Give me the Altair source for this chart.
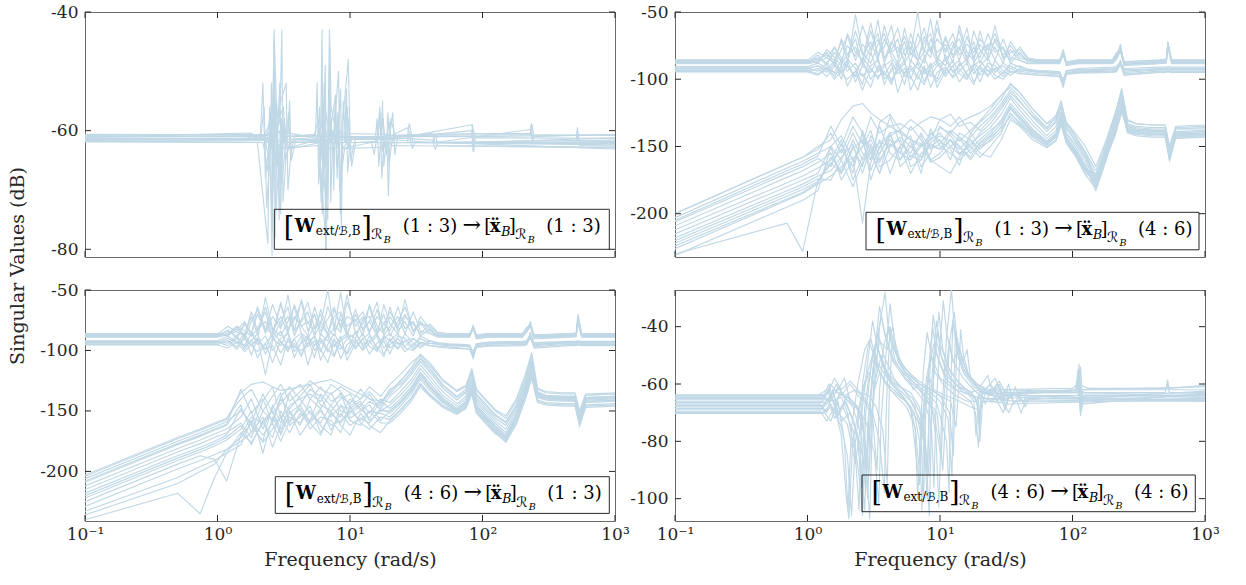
import altair as alt
import pandas as pd

# ---------------- data ----------------
X_TICKS = [0.1, 1, 10, 100, 1000]
TL_YTICKS = [-80, -60, -40]
TR_YTICKS = [-200, -150, -100, -50]
BL_YTICKS = [-200, -150, -100, -50]
BR_YTICKS = [-100, -80, -60, -40]

TL_DOMAIN = [-81.3, -40]
TR_DOMAIN = [-232.2, -50]
BL_DOMAIN = [-241, -50]
BR_DOMAIN = [-107.8, -27.2]

# frequency grid of the upper (sigma1 / sigma2) bundles, rad/s
FREQ_UP = [0.1, 1.0, 1.2, 1.4, 1.6, 1.8, 2.0, 2.3, 2.6, 3.0,
           3.4, 3.8, 4.3, 4.8, 5.4, 6.0, 6.8, 7.6, 8.5, 9.5,
           11, 12.5, 14, 16, 18, 20, 23, 26, 30, 34,
           40, 46, 55, 70, 80, 85, 90, 110, 200, 215,
           230, 245, 450, 510, 525, 560, 1000]
# frequency grid of the lower bundle, top-right panel
FREQ_LO_TR = [0.1, 0.7, 0.92, 1.2, 1.5, 1.8, 2.2, 2.6, 3.0, 3.5,
              4.2, 5.0, 6.0, 7.2, 8.5, 10, 12, 14, 17, 20,
              24, 29, 34, 40, 50, 64, 75, 82, 90, 105,
              125, 150, 180, 210, 235, 260, 300, 400, 500, 540,
              600, 1000]
# frequency grid of the lower bundle, bottom-left panel
FREQ_LO_BL = [0.1, 0.5, 0.74, 0.95, 1.17, 1.5, 1.8, 2.2, 2.6, 3.0,
              3.5, 4.2, 5.0, 6.0, 7.2, 8.5, 10, 12, 14, 17,
              20, 24, 29, 34, 40, 50, 64, 75, 83, 90,
              105, 125, 150, 180, 210, 235, 260, 300, 400, 500,
              540, 600, 1000]

# top-left: [frequency, dB] points of each curve
TL_LINES = [
    [[0.1,-61.0],[1.8,-61.0],[2.3,-61.8],[2.5,-66],[2.58,-81],[2.67,-43],[2.8,-57],[3.1,-60.2],[5.6,-61.3],[6.4,-63],[6.6,-57],[6.9,-60],[8,-61],[17,-61.5],[17.8,-58],[18.6,-63],[20,-61],[27,-59.5],[29,-61],[83,-60],[86,-62],[1000,-61.2]],
    [[0.1,-61.4],[2.0,-61.4],[2.4,-60.5],[2.9,-59],[3.0,-52],[3.06,-43],[3.12,-72],[3.3,-64],[3.6,-62],[5.8,-61.8],[6.62,-80],[7.0,-43],[7.2,-56],[7.8,-60],[9,-61],[19,-61.5],[19.5,-71],[20.3,-58],[22,-61],[42,-60.5],[44,-62],[230,-59.8],[240,-62],[1000,-61.8]],
    [[0.1,-60.8],[1.85,-60.6],[2.1,-61.5],[2.2,-52],[2.3,-68],[2.45,-62],[2.75,-57],[2.85,-66],[3.2,-61],[5.5,-60.6],[5.65,-52],[5.8,-69],[6.2,-61],[8.6,-61],[9.7,-48],[10.1,-65],[11,-61.2],[27,-61],[83,-59],[88,-61],[1000,-60.7]],
    [[0.1,-61.7],[2.0,-62],[2.4,-79],[2.47,-56],[2.6,-60],[3.3,-52],[3.4,-70],[3.6,-63],[6,-62],[6.8,-75],[7.0,-53],[7.3,-62],[8.3,-62.5],[8.6,-76],[8.9,-55],[9.3,-62],[16,-62],[16.8,-56],[17.4,-68],[18,-62],[510,-62],[520,-59.5],[540,-62.5],[1000,-62.6]],
    [[0.1,-61.2],[2.2,-61.5],[2.55,-58],[2.62,-70],[2.7,-50],[2.78,-66],[3.0,-62],[6.0,-61.5],[6.15,-43],[6.25,-70],[6.5,-62],[7.4,-60],[7.55,-70],[7.7,-58],[8.2,-61.5],[18,-61.5],[18.8,-64],[19.3,-57],[20,-61.5],[42,-62],[44,-60.5],[46,-62.5],[1000,-62.8]],
    [[0.1,-60.6],[2.5,-60.7],[2.8,-55],[2.92,-75],[3.05,-58],[3.2,-61],[7,-60.8],[7.8,-54],[8.0,-68],[8.3,-60],[9,-60.5],[20,-60.6],[21,-57],[21.8,-64],[23,-60.8],[83,-60.5],[85,-63.5],[87,-60.5],[230,-60.5],[235,-58.8],[245,-61],[1000,-60.6]],
    [[0.1,-61.5],[1.6,-61.4],[2.05,-60.6],[2.35,-62],[2.5,-57],[2.58,-77],[2.68,-60],[3.15,-56],[3.25,-65],[3.5,-62],[6.3,-62],[6.5,-49],[6.65,-73],[6.9,-62],[9.4,-62],[9.8,-58],[10.3,-66],[11,-62],[15.5,-61.8],[16,-58],[16.5,-66],[17,-62],[1000,-62.2]],
    [[0.1,-60.9],[2.3,-61],[2.52,-63],[2.55,-52],[2.62,-66],[2.9,-62],[3.4,-61],[3.5,-55],[3.6,-65],[3.9,-61.5],[5.7,-61.5],[5.9,-56],[6.05,-72],[6.3,-62],[7.5,-61],[8.2,-50],[8.45,-74],[8.8,-63],[10,-61.4],[27,-61.3],[28,-58.8],[30,-62],[1000,-61.6]],
    [[0.1,-61.3],[2.5,-61.3],[2.63,-61.8],[2.67,-45],[2.72,-78],[2.8,-63],[3.2,-61.5],[6.9,-61.6],[7.05,-46],[7.15,-72],[7.4,-62],[9.1,-62],[9.4,-53],[9.6,-67],[10,-62],[17.2,-62],[17.6,-55],[18,-66],[18.7,-62],[510,-62],[520,-60],[535,-62],[1000,-62.0]],
    [[0.1,-61.8],[2.1,-61.7],[2.25,-56],[2.35,-73],[2.5,-63],[2.9,-62.5],[3.0,-74],[3.08,-58],[3.3,-62],[5.5,-62],[6.45,-58],[6.55,-80],[6.7,-62],[7.9,-62],[8.1,-57],[8.35,-70],[8.7,-63],[14.5,-62],[15.2,-64],[16,-61],[42,-61.6],[44,-63.2],[46,-62],[1000,-63.1]],
    [[0.1,-61.1],[1.8,-60.4],[2.0,-61.6],[2.45,-61.2],[2.8,-65],[2.95,-52],[3.05,-69],[3.3,-61.5],[5.3,-61.2],[5.8,-58],[6.0,-64],[6.35,-55],[6.5,-66],[6.9,-61.3],[9.2,-61.1],[9.55,-56],[9.75,-63],[10.5,-61],[19,-61],[19.8,-58.5],[20.5,-62.5],[21.5,-61],[83,-61],[84,-59],[86,-63.5],[88,-61.2],[1000,-61.3]],
    [[0.1,-60.7],[2.4,-60.8],[2.6,-59],[2.72,-56],[2.78,-62],[3.3,-60.5],[3.45,-57],[3.55,-64],[3.8,-61],[6.6,-60.8],[7.2,-58],[7.35,-64],[7.9,-61],[16.3,-61],[17,-57],[17.5,-63.5],[18.3,-60.8],[230,-60.7],[232,-59],[240,-61.5],[250,-60.7],[1000,-60.8]],
    [[0.1,-61.9],[2.2,-62],[2.42,-67],[2.48,-60],[2.56,-62.5],[2.65,-49],[2.75,-74],[2.95,-63],[5.8,-62.5],[6.2,-74],[6.35,-60],[6.6,-63],[8,-63],[8.5,-53],[8.65,-67],[9.1,-63],[18,-62.8],[19.5,-62],[19.7,-66],[20.5,-62.5],[1000,-62.9]],
    [[0.1,-61.6],[2.6,-61.6],[2.95,-60],[3.05,-66],[3.2,-58],[3.35,-63],[5.5,-61.6],[6.1,-59],[6.25,-52],[6.32,-68],[6.45,-62],[7.6,-61.5],[7.75,-54],[7.9,-66],[8.4,-62],[27,-62],[28,-60.5],[29.5,-63],[31,-62],[1000,-62.4]],
]

# top-right, upper bundle (dB on FREQ_UP)
TR_UPPER = [
    [-86.5, -86.5, -84, -88, -80, -86, -75, -83, -60, -78,
     -70, -85, -72, -80, -68, -82, -75, -62, -80, -70,
     -78, -66, -82, -74, -80, -70, -78, -72, -82, -75,
     -84, -86, -86.5, -86.5, -86.5, -80, -88, -86.5, -86.5, -82,
     -76, -88, -86.5, -86, -74, -86.5, -86.5],
    [-92.5, -92.5, -90, -95, -88, -100, -85, -92, -104, -80,
     -95, -88, -102, -92, -86, -108, -96, -84, -94, -100,
     -82, -95, -90, -85, -96, -90, -84, -95, -88, -92,
     -90, -93, -95, -95.5, -96, -103, -95, -94, -93, -93,
     -88, -95, -93, -93, -93, -93, -93],
    [-87.5, -87.5, -82, -90, -76, -84, -90, -52, -80, -88,
     -74, -66, -84, -90, -78, -72, -86, -80, -55, -84,
     -90, -75, -70, -86, -76, -84, -66, -80, -76, -88,
     -80, -87, -87.5, -87.5, -87.5, -78, -89, -87.5, -87.5, -84,
     -74, -89, -87.5, -87, -72, -87.5, -87.5],
    [-93.5, -93.5, -96, -91, -98, -90, -105, -94, -86, -100,
     -92, -97, -88, -110, -95, -90, -98, -104, -92, -88,
     -98, -90, -102, -94, -89, -97, -93, -100, -95, -90,
     -94, -95, -96, -96.5, -97, -106, -95.5, -94.5, -94, -93.5,
     -86, -96, -94, -94, -93.5, -94, -94],
    [-86, -86, -80, -84, -88, -70, -82, -76, -88, -64,
     -82, -76, -60, -84, -72, -88, -66, -78, -84, -62,
     -80, -72, -86, -68, -84, -74, -82, -60, -85, -80,
     -78, -85, -86, -86, -86, -82, -87, -86, -86, -80,
     -78, -87, -86, -85.5, -76, -86, -86],
    [-92, -92, -94, -88, -96, -92, -86, -102, -90, -95,
     -84, -100, -94, -90, -104, -86, -92, -96, -88, -106,
     -94, -86, -96, -100, -88, -92, -98, -86, -94, -97,
     -92, -94, -94.5, -95, -95.5, -100, -94, -93, -92.5, -92,
     -90, -94, -92.5, -92.5, -92, -92.5, -92.5],
    [-88, -88, -86, -80, -90, -78, -68, -86, -74, -82,
     -56, -84, -78, -70, -88, -80, -50, -84, -76, -88,
     -68, -84, -78, -62, -88, -80, -74, -86, -70, -84,
     -86, -88, -88, -88, -88, -81, -89, -88, -88, -85,
     -79, -89, -88, -87.5, -75, -88, -88],
    [-94, -94, -92, -98, -90, -96, -100, -94, -108, -92,
     -98, -94, -104, -88, -96, -92, -100, -90, -106, -95,
     -91, -99, -94, -88, -102, -95, -90, -97, -100, -94,
     -96, -96, -97, -97.5, -98, -104, -96, -95, -94.5, -94,
     -87, -97, -94.5, -94.5, -94, -94.5, -94.5],
    [-87, -87, -85, -82, -86, -72, -86, -64, -82, -72,
     -86, -60, -80, -76, -86, -66, -82, -88, -70, -80,
     -74, -88, -60, -80, -86, -64, -84, -76, -88, -72,
     -82, -86, -87, -87, -87, -79, -88, -87, -87, -83,
     -77, -88, -87, -86.5, -73, -87, -87],
    [-91.5, -91.5, -90, -93, -86, -95, -90, -98, -84, -92,
     -100, -90, -86, -96, -92, -100, -86, -94, -98, -90,
     -86, -94, -92, -100, -90, -86, -94, -92, -90, -95,
     -93, -93.5, -94, -94.5, -95, -102, -94, -93, -92, -91.5,
     -88, -93, -92, -92, -91.5, -92, -92],
    [-85.5, -85.5, -88, -78, -84, -90, -66, -80, -86, -58,
     -84, -70, -80, -88, -62, -80, -86, -72, -66, -86,
     -70, -82, -76, -88, -64, -78, -86, -70, -78, -86,
     -76, -84, -85.5, -85.5, -85.5, -79, -87, -85.5, -85.5, -81,
     -77, -87, -85.5, -85, -73, -85.5, -85.5],
    [-94.5, -94.5, -97, -92, -100, -94, -90, -98, -96, -106,
     -90, -96, -100, -94, -88, -98, -108, -92, -96, -102,
     -92, -98, -88, -96, -104, -90, -97, -92, -98, -92,
     -95, -96.5, -97, -97.5, -98, -105, -96.5, -95.5, -95, -94.5,
     -88, -97, -95, -95, -94.5, -95, -95],
    [-88.5, -88.5, -87, -84, -76, -88, -82, -70, -90, -76,
     -66, -88, -74, -62, -82, -76, -86, -68, -80, -56,
     -86, -78, -64, -84, -72, -88, -76, -66, -84, -78,
     -86, -88.5, -88.5, -88.5, -88.5, -82, -90, -88.5, -88.5, -85,
     -79, -90, -88.5, -88, -76, -88.5, -88.5],
    [-90.5, -90.5, -88, -92, -95, -86, -94, -88, -98, -90,
     -86, -104, -92, -88, -98, -94, -88, -102, -90, -86,
     -96, -90, -86, -98, -92, -102, -88, -90, -96, -88,
     -91, -92.5, -93.5, -94, -94.5, -101, -93.5, -92, -91, -90.5,
     -87, -92, -91, -91, -90.5, -91, -91],
]

# top-right, lower bundle (dB on FREQ_LO_TR)
TR_LOWER = [
    [-200, -163, -158, -152, -140, -155, -135, -148, -128, -140,
     -135, -133, -138, -132, -128, -130, -135, -128, -140, -132,
     -125, -115, -103, -110, -122, -133, -130, -120, -132, -140,
     -150, -165, -145, -125, -108, -130, -133, -134, -134, -150,
     -136, -135],
    [-203, -166, -161, -155, -150, -142, -160, -150, -145, -156,
     -140, -138, -145, -150, -141, -136, -140, -146, -138, -131,
     -122, -112, -106, -113, -125, -136, -128, -117, -134, -143,
     -155, -172, -150, -128, -110, -134, -136, -137, -137, -155,
     -139, -138],
    [-206, -170, -165, -159, -165, -148, -170, -138, -155, -147,
     -150, -143, -150, -158, -147, -142, -146, -152, -143, -135,
     -128, -118, -108, -116, -128, -139, -132, -121, -137, -146,
     -158, -176, -153, -131, -112, -136, -138, -139, -139, -158,
     -141, -140],
    [-209, -173, -168, -162, -155, -170, -150, -165, -142, -152,
     -128, -148, -155, -140, -152, -148, -138, -143, -150, -140,
     -133, -122, -112, -120, -131, -142, -135, -124, -140, -148,
     -160, -178, -155, -133, -115, -137, -138, -138, -139, -157,
     -140, -139],
    [-212, -177, -172, -166, -160, -145, -175, -158, -148, -162,
     -145, -155, -160, -150, -145, -140, -150, -156, -148, -142,
     -136, -126, -114, -123, -134, -144, -138, -126, -141, -150,
     -163, -180, -158, -135, -117, -138, -140, -141, -141, -160,
     -142, -141],
    [-215, -180, -175, -170, -150, -160, -140, -155, -160, -135,
     -155, -160, -150, -142, -160, -155, -145, -150, -158, -147,
     -140, -130, -118, -126, -137, -146, -140, -128, -143, -152,
     -165, -183, -160, -137, -119, -135, -137, -138, -138, -154,
     -137, -136],
    [-218, -183, -178, -172, -168, -158, -148, -170, -150, -165,
     -160, -150, -170, -155, -150, -145, -160, -140, -145, -152,
     -145, -135, -122, -130, -140, -148, -142, -131, -145, -154,
     -168, -170, -155, -140, -122, -139, -140, -141, -141, -158,
     -142, -142],
    [-230, -207, -228, -175, -162, -170, -152, -145, -168, -150,
     -140, -165, -157, -160, -148, -152, -145, -155, -150, -158,
     -150, -140, -125, -133, -143, -150, -145, -133, -147, -156,
     -170, -175, -158, -142, -125, -137, -139, -140, -140, -156,
     -141, -140],
    [-222, -187, -182, -176, -163, -152, -165, -140, -175, -155,
     -142, -138, -165, -160, -137, -150, -155, -160, -152, -145,
     -138, -132, -120, -128, -138, -146, -141, -129, -144, -153,
     -166, -172, -149, -127, -109, -133, -135, -136, -136, -153,
     -137, -137],
    [-226, -190, -185, -178, -172, -165, -158, -207, -162, -145,
     -170, -150, -142, -165, -155, -135, -142, -150, -160, -150,
     -143, -136, -128, -134, -142, -149, -143, -130, -146, -155,
     -168, -177, -157, -138, -120, -140, -142, -143, -143, -161,
     -144, -143],
    [-200, -163, -158, -150, -145, -130, -120, -118, -125, -130,
     -135, -140, -145, -148, -150, -152, -140, -132, -128, -125,
     -120, -112, -104, -110, -122, -133, -127, -116, -133, -142,
     -154, -168, -147, -126, -107, -131, -133, -134, -134, -150,
     -135, -134],
    [-231, -195, -190, -183, -150, -175, -160, -150, -138, -160,
     -148, -155, -135, -145, -160, -165, -170, -158, -145, -155,
     -158, -145, -130, -135, -145, -151, -146, -134, -148, -157,
     -171, -181, -159, -140, -123, -138, -140, -141, -141, -159,
     -143, -142],
    [-205, -168, -163, -157, -135, -150, -128, -140, -160, -132,
     -126, -138, -130, -136, -145, -130, -126, -135, -132, -138,
     -130, -120, -110, -117, -127, -137, -131, -120, -136, -145,
     -156, -174, -152, -130, -111, -135, -137, -138, -138, -156,
     -140, -139],
    [-220, -185, -180, -174, -175, -160, -180, -162, -155, -170,
     -150, -145, -158, -148, -162, -158, -150, -144, -155, -148,
     -142, -133, -121, -129, -139, -147, -142, -130, -144, -153,
     -167, -180, -156, -136, -118, -139, -141, -142, -142, -159,
     -143, -143],
    [-224, -189, -184, -177, -158, -168, -145, -160, -152, -170,
     -140, -160, -146, -170, -140, -146, -152, -164, -140, -150,
     -146, -138, -126, -132, -141, -148, -143, -132, -145, -154,
     -167, -174, -156, -139, -121, -137, -139, -140, -140, -157,
     -141, -141],
]

# bottom-left, upper bundle (dB on FREQ_UP)
BL_UPPER = [
    [-87, -87, -84, -88, -78, -86, -70, -84, -62, -80,
     -72, -84, -58, -78, -70, -84, -74, -64, -82, -72,
     -76, -68, -84, -72, -78, -68, -80, -70, -84, -76,
     -84, -87, -87, -87, -87, -80, -88.5, -87, -87, -83,
     -78, -88, -87, -86.5, -72, -87, -87],
    [-94, -94, -92, -97, -88, -104, -90, -120, -92, -84,
     -98, -90, -104, -94, -88, -108, -95, -86, -96, -102,
     -84, -97, -92, -86, -98, -92, -86, -97, -90, -94,
     -92, -95, -96, -96.5, -97, -107, -96, -95, -94, -94,
     -88, -96, -94, -94, -94, -94, -94],
    [-88, -88, -83, -90, -78, -85, -92, -56, -82, -88,
     -76, -64, -86, -90, -80, -70, -88, -82, -52, -86,
     -90, -74, -72, -86, -78, -84, -64, -82, -76, -88,
     -82, -88, -88, -88, -88, -79, -89.5, -88, -88, -84,
     -76, -89, -88, -87.5, -74, -88, -88],
    [-93, -93, -96, -90, -99, -91, -106, -94, -88, -102,
     -92, -98, -88, -112, -95, -90, -99, -105, -92, -88,
     -99, -90, -103, -94, -89, -98, -93, -101, -95, -90,
     -94, -95, -95.5, -96, -96.5, -104, -95, -94, -93.5, -93,
     -85, -95, -93.5, -93.5, -93, -93.5, -93.5],
    [-86.5, -86.5, -80, -85, -88, -68, -83, -76, -88, -62,
     -82, -75, -60, -84, -70, -88, -64, -78, -85, -60,
     -80, -72, -86, -66, -84, -72, -82, -58, -85, -78,
     -80, -86, -86.5, -86.5, -86.5, -82, -87.5, -86.5, -86.5, -81,
     -79, -87.5, -86.5, -86, -70, -86.5, -86.5],
    [-92.5, -92.5, -94, -88, -97, -92, -86, -103, -90, -96,
     -84, -101, -94, -90, -106, -86, -92, -97, -88, -108,
     -94, -86, -97, -100, -88, -92, -99, -86, -94, -98,
     -92, -94.5, -95, -95.5, -96, -101, -94.5, -93.5, -93, -92.5,
     -90, -94, -93, -93, -92.5, -93, -93],
    [-87.5, -87.5, -86, -80, -90, -76, -66, -86, -72, -82,
     -54, -84, -76, -68, -88, -78, -50, -84, -74, -88,
     -66, -84, -76, -60, -88, -80, -72, -86, -68, -84,
     -86, -87.5, -87.5, -87.5, -87.5, -81, -88.5, -87.5, -87.5, -84,
     -80, -88.5, -87.5, -87, -76, -87.5, -87.5],
    [-95, -95, -92, -99, -90, -96, -101, -94, -110, -92,
     -99, -94, -105, -88, -96, -92, -101, -90, -107, -95,
     -91, -100, -94, -88, -103, -95, -90, -98, -100, -94,
     -96, -96.5, -97, -98, -99, -105, -97, -96, -95, -95,
     -88, -97, -95, -95, -95, -95, -95],
    [-88.5, -88.5, -86, -82, -87, -72, -86, -64, -84, -72,
     -86, -62, -80, -76, -86, -66, -82, -88, -70, -80,
     -74, -88, -62, -80, -86, -64, -84, -76, -88, -72,
     -82, -88, -88.5, -88.5, -88.5, -80, -89.5, -88.5, -88.5, -84,
     -78, -89.5, -88.5, -88, -75, -88.5, -88.5],
    [-93.5, -93.5, -90, -94, -86, -96, -90, -99, -84, -93,
     -101, -90, -86, -97, -92, -101, -86, -95, -99, -90,
     -86, -95, -92, -101, -90, -86, -95, -92, -90, -96,
     -94, -94.5, -95, -95.5, -96, -103, -95, -94, -93.5, -93.5,
     -89, -95, -93.5, -93.5, -93.5, -93.5, -93.5],
    [-86, -86, -88, -80, -84, -88, -64, -82, -86, -60,
     -84, -72, -80, -88, -64, -80, -86, -72, -68, -86,
     -70, -82, -76, -88, -62, -78, -86, -72, -78, -86,
     -78, -85, -86, -86, -86, -80, -87, -86, -86, -82,
     -78, -87, -86, -85.5, -72, -86, -86],
    [-95.5, -95.5, -98, -93, -101, -95, -92, -99, -96, -112,
     -90, -97, -100, -95, -88, -99, -110, -92, -96, -103,
     -92, -99, -88, -97, -105, -90, -98, -92, -99, -93,
     -96, -97, -98, -98.5, -99, -106, -97.5, -96.5, -96, -95.5,
     -89, -98, -96, -96, -95.5, -96, -96],
    [-89, -89, -87, -84, -76, -88, -82, -68, -90, -76,
     -64, -88, -74, -60, -82, -76, -86, -66, -80, -54,
     -86, -78, -64, -84, -70, -88, -76, -64, -84, -78,
     -86, -89, -89, -89, -89, -82, -90.5, -89, -89, -85,
     -80, -90.5, -89, -88.5, -77, -89, -89],
    [-92, -92, -88, -93, -96, -86, -95, -88, -100, -90,
     -86, -106, -92, -88, -100, -94, -88, -104, -90, -86,
     -97, -90, -86, -99, -92, -103, -88, -90, -97, -88,
     -92, -93.5, -94.5, -95, -95.5, -102, -94.5, -93, -92.5, -92,
     -88, -93.5, -92.5, -92.5, -92, -92.5, -92.5],
]

# bottom-left, lower bundle (dB on FREQ_LO_BL)
BL_LOWER = [
    [-203, -172, -165, -160, -156, -140, -132, -150, -138, -128,
     -142, -134, -125, -132, -136, -130, -135, -140, -130, -138,
     -128, -120, -110, -104, -112, -125, -134, -130, -118, -133,
     -141, -150, -156, -142, -122, -104, -132, -135, -136, -136,
     -152, -137, -136],
    [-206, -175, -168, -163, -159, -150, -160, -136, -152, -144,
     -135, -128, -140, -130, -142, -138, -144, -132, -140, -146,
     -134, -125, -116, -106, -114, -128, -138, -132, -116, -136,
     -144, -153, -159, -145, -125, -106, -134, -137, -138, -138,
     -155, -139, -138],
    [-209, -178, -171, -166, -162, -145, -168, -142, -130, -155,
     -148, -138, -128, -145, -150, -140, -136, -150, -142, -148,
     -138, -130, -120, -109, -118, -131, -141, -135, -120, -139,
     -147, -156, -162, -148, -128, -109, -136, -139, -140, -140,
     -157, -141, -140],
    [-212, -181, -174, -169, -165, -155, -140, -165, -148, -135,
     -160, -145, -132, -138, -155, -146, -148, -142, -152, -140,
     -143, -134, -124, -112, -121, -134, -144, -138, -123, -141,
     -149, -158, -165, -150, -130, -111, -137, -139, -140, -141,
     -158, -142, -141],
    [-215, -184, -177, -172, -168, -160, -172, -150, -158, -140,
     -150, -162, -140, -148, -135, -150, -152, -146, -136, -150,
     -145, -137, -127, -115, -124, -137, -146, -140, -126, -143,
     -151, -160, -168, -152, -132, -113, -138, -140, -141, -142,
     -160, -143, -142],
    [-218, -187, -180, -175, -170, -148, -162, -175, -145, -160,
     -135, -150, -158, -136, -146, -155, -140, -148, -156, -142,
     -148, -140, -130, -118, -127, -139, -148, -142, -128, -145,
     -153, -162, -170, -155, -134, -116, -135, -137, -138, -138,
     -153, -137, -136],
    [-222, -191, -184, -179, -174, -165, -150, -185, -155, -168,
     -145, -140, -152, -160, -145, -135, -156, -150, -145, -158,
     -150, -143, -133, -120, -130, -141, -150, -144, -130, -147,
     -155, -164, -172, -157, -136, -118, -139, -141, -142, -142,
     -158, -143, -142],
    [-225, -194, -187, -190, -208, -170, -155, -160, -172, -150,
     -162, -155, -146, -168, -152, -160, -150, -158, -150, -152,
     -155, -146, -136, -124, -133, -143, -151, -146, -132, -149,
     -157, -166, -174, -158, -138, -120, -141, -143, -144, -144,
     -160, -145, -144],
    [-229, -198, -191, -186, -182, -175, -168, -155, -180, -162,
     -150, -170, -158, -148, -166, -152, -162, -156, -160, -148,
     -152, -144, -134, -122, -131, -142, -150, -145, -131, -148,
     -156, -165, -173, -156, -135, -117, -136, -138, -139, -139,
     -155, -139, -138],
    [-233, -205, -196, -191, -185, -178, -158, -170, -160, -175,
     -158, -148, -165, -155, -158, -168, -146, -160, -165, -155,
     -157, -149, -139, -127, -136, -145, -152, -147, -134, -150,
     -158, -167, -175, -160, -140, -122, -142, -144, -145, -145,
     -162, -146, -145],
    [-240, -218, -235, -205, -185, -168, -176, -160, -150, -165,
     -155, -160, -150, -162, -170, -145, -158, -162, -150, -160,
     -160, -152, -142, -130, -138, -147, -153, -148, -136, -152,
     -160, -169, -171, -154, -133, -115, -137, -139, -140, -140,
     -156, -140, -139],
    [-204, -173, -166, -161, -157, -135, -128, -126, -130, -133,
     -132, -130, -128, -126, -124, -128, -132, -136, -140, -142,
     -136, -126, -114, -103, -110, -124, -133, -129, -115, -132,
     -140, -149, -154, -140, -120, -102, -131, -134, -135, -135,
     -150, -136, -135],
    [-208, -177, -170, -165, -161, -132, -152, -140, -160, -138,
     -130, -140, -136, -142, -128, -134, -146, -140, -134, -144,
     -132, -128, -118, -107, -116, -129, -139, -134, -118, -137,
     -145, -154, -160, -146, -126, -107, -135, -138, -139, -139,
     -156, -140, -139],
    [-220, -189, -182, -177, -172, -162, -178, -158, -150, -170,
     -152, -145, -160, -150, -162, -158, -150, -144, -158, -150,
     -150, -142, -132, -119, -129, -140, -149, -143, -129, -146,
     -154, -163, -171, -156, -135, -117, -138, -140, -141, -141,
     -157, -142, -141],
    [-236, -210, -200, -194, -182, -172, -160, -176, -165, -155,
     -168, -152, -160, -170, -150, -162, -170, -152, -162, -168,
     -158, -150, -140, -128, -137, -146, -152, -147, -135, -151,
     -159, -168, -176, -161, -141, -123, -143, -145, -146, -146,
     -163, -147, -146],
]

# bottom-right: [frequency, dB] points of each curve
BR_LINES = [
    [[0.1,-64],[1.2,-64],[1.4,-62],[1.55,-66],[1.8,-64.5],[2.0,-70],[2.3,-85],[2.45,-104],[2.6,-60],[2.9,-45],[3.3,-52],[4,-58],[5,-61],[6,-63],[7,-68],[7.6,-80],[8.0,-100],[8.4,-55],[8.8,-40],[9.5,-50],[11,-57],[14,-61],[17,-62.5],[19,-66],[20,-62],[25,-64],[28,-60],[31,-66],[35,-63],[105,-63],[110,-55],[115,-70],[120,-63],[500,-63],[520,-60],[540,-63],[1000,-63]],
    [[0.1,-65],[1.3,-65],[1.45,-60],[1.6,-68],[1.75,-63],[2.2,-66],[2.6,-72],[2.95,-107],[3.1,-70],[3.5,-40],[3.85,-28],[4.1,-42],[4.6,-52],[5.5,-58],[7,-62],[8.5,-66],[9.3,-78],[9.8,-103],[10.3,-70],[11.2,-44],[12.2,-27],[12.8,-40],[14,-50],[17,-58],[20,-62],[24,-64],[26,-61],[29,-66],[33,-63],[108,-63],[112,-53],[116,-68],[125,-63.5],[1000,-63.5]],
    [[0.1,-69],[1.3,-69],[1.5,-73],[1.7,-66],[1.9,-80],[2.02,-104],[2.15,-75],[2.4,-60],[2.7,-48],[3.0,-44],[3.4,-55],[4,-60],[5,-64],[6,-68],[6.5,-76],[6.8,-100],[7.1,-78],[7.5,-55],[8,-42],[8.6,-50],[10,-58],[13,-62],[18,-64],[20,-70],[22,-63],[40,-64],[44,-68],[47,-65],[1000,-65.5]],
    [[0.1,-67],[1.25,-67],[1.4,-70],[1.55,-62],[1.7,-70],[2.0,-74],[2.3,-88],[2.5,-75],[2.8,-55],[3.1,-38],[3.4,-48],[4,-56],[5,-61],[6.2,-65],[7.4,-72],[8.2,-92],[8.6,-70],[9.2,-50],[9.8,-35],[10.5,-48],[12,-56],[15,-61],[19,-66],[19.5,-74],[20.5,-63],[30,-65],[33,-60],[36,-67],[40,-64],[112,-64],[115,-71],[120,-64.5],[1000,-64.5]],
    [[0.1,-64.5],[1.35,-64.5],[1.5,-60],[1.65,-63],[1.9,-58],[2.1,-66],[2.5,-70],[2.75,-82],[2.85,-100],[3.0,-65],[3.3,-46],[3.6,-36],[3.9,-44],[4.5,-52],[5.5,-57],[6.5,-60],[7.5,-64],[9,-70],[10.2,-86],[10.6,-68],[11.4,-50],[12.8,-35],[13.5,-45],[15,-52],[16,-48],[17,-58],[20,-61],[23,-57],[25,-64],[105,-62],[110,-58],[113,-64],[118,-62],[515,-62],[520,-59],[530,-62],[1000,-62]],
    [[0.1,-70],[1.3,-70],[1.5,-67],[1.8,-75],[2.0,-85],[2.15,-106],[2.3,-80],[2.6,-62],[3.0,-52],[3.3,-45],[3.6,-52],[4.3,-60],[5.4,-65],[6.4,-70],[7.0,-80],[7.3,-104],[7.6,-72],[8.2,-55],[9.0,-46],[9.8,-52],[11,-58],[14,-63],[17,-66],[18.5,-70],[19.5,-82],[20.5,-66],[27,-66],[30,-70],[33,-64],[1000,-66]],
    [[0.1,-65.5],[1.4,-65.5],[1.6,-62],[1.8,-64],[2.1,-60],[2.4,-64],[2.7,-66],[3.1,-72],[3.35,-90],[3.5,-62],[3.75,-47],[4.1,-40],[4.5,-48],[5.3,-55],[6.5,-60],[8,-63],[9.5,-67],[11.2,-80],[11.7,-98],[12.1,-60],[12.5,-38],[13.2,-46],[15,-55],[18,-60],[21,-63],[24,-60],[28,-65],[32,-62],[36,-66],[110,-64],[113,-56],[117,-69],[122,-64],[1000,-64]],
    [[0.1,-68.5],[1.3,-68.5],[1.45,-66],[1.6,-72],[1.85,-68],[2.2,-76],[2.5,-95],[2.6,-106],[2.75,-70],[3.05,-52],[3.3,-45],[3.7,-54],[4.5,-60],[6,-66],[7,-72],[7.8,-84],[8.3,-106],[8.7,-66],[9.2,-48],[9.6,-42],[10.2,-50],[12,-58],[15,-63],[20,-65],[29,-65],[31,-69],[34,-63],[43,-66],[46,-62],[1000,-64.8]],
    [[0.1,-64],[1.3,-64],[1.45,-66],[1.65,-60],[1.9,-65],[2.35,-68],[2.65,-76],[2.9,-92],[3.0,-80],[3.2,-55],[3.5,-45],[4.0,-48],[4.4,-40],[4.8,-52],[5.8,-58],[6.3,-62],[6.8,-60],[7.8,-65],[9.5,-70],[10.5,-90],[11,-72],[11.8,-45],[12.5,-52],[14,-48],[16,-56],[19,-60],[22,-62],[26,-58],[29,-63],[108,-62],[111,-57],[114,-66],[120,-62],[1000,-61]],
    [[0.1,-69.5],[1.25,-69.5],[1.4,-73],[1.6,-68],[1.8,-78],[1.95,-98],[2.05,-107],[2.2,-80],[2.5,-66],[2.9,-56],[3.2,-60],[3.6,-50],[4.0,-58],[5,-63],[6,-68],[6.6,-85],[7.0,-95],[7.3,-74],[7.9,-58],[8.5,-50],[9.2,-56],[10.5,-60],[13,-64],[16,-66],[19.3,-66],[19.8,-76],[20.4,-65],[38,-66],[41,-70],[45,-65],[1000,-65.8]],
    [[0.1,-66.5],[1.35,-66.5],[1.55,-63],[1.75,-69],[2.0,-64],[2.4,-68],[2.8,-74],[3.2,-84],[3.45,-102],[3.6,-72],[3.9,-50],[4.2,-32],[4.5,-44],[5.0,-52],[6,-57],[7,-60],[8.5,-63],[10,-66],[11.5,-72],[12.3,-92],[12.7,-62],[13.1,-42],[13.6,-50],[15,-56],[18,-61],[24,-64],[27,-60],[30,-65],[112,-64],[115,-54],[119,-66],[1000,-63.6]],
    [[0.1,-67.5],[1.3,-67.5],[1.5,-64],[1.7,-70],[1.9,-66],[2.2,-72],[2.4,-80],[2.55,-96],[2.7,-68],[2.9,-58],[3.2,-48],[3.5,-56],[4.2,-62],[5.5,-66],[6.6,-72],[7.6,-76],[8.0,-90],[8.3,-70],[8.9,-52],[9.4,-38],[10,-46],[11.5,-54],[14,-60],[17,-63],[20,-62],[22,-67],[24,-62],[35,-65],[37,-61],[40,-66],[1000,-65]],
    [[0.1,-63.8],[1.4,-63.8],[1.6,-58],[1.8,-62],[2.1,-59],[2.5,-63],[2.9,-64],[3.3,-68],[3.7,-76],[4.0,-95],[4.15,-62],[4.35,-46],[4.7,-50],[5.5,-56],[7,-60],[8.5,-62],[10,-64],[12,-66],[13.2,-75],[13.8,-62],[14.3,-41],[15,-50],[16.5,-57],[19,-60],[23,-62],[100,-61.5],[110,-60],[130,-61.5],[515,-61.5],[522,-58.5],[535,-61.5],[1000,-60.5]],
    [[0.1,-70.3],[1.3,-70.3],[1.5,-68],[1.8,-73],[2.1,-70],[2.4,-78],[2.75,-90],[2.9,-78],[3.2,-62],[3.5,-56],[3.9,-60],[4.6,-64],[5.6,-68],[6.5,-75],[6.9,-88],[7.2,-82],[7.7,-64],[8.3,-58],[9,-62],[11,-64],[14,-66],[17,-68],[19.5,-69],[20,-80],[21,-66],[30,-66.5],[33,-70],[36,-66],[1000,-66]],
    [[0.1,-66],[1.3,-66],[1.45,-62],[1.6,-67],[1.8,-63],[2.2,-68],[2.55,-78],[2.75,-98],[2.9,-72],[3.2,-50],[3.5,-33],[3.8,-42],[4.4,-52],[5.4,-58],[6.5,-62],[7.6,-66],[8.6,-74],[9.0,-96],[9.3,-70],[9.9,-48],[10.6,-31],[11.2,-42],[12.5,-52],[15,-58],[18,-62],[20,-64],[24,-62],[27,-66],[31,-62],[110,-63],[112,-58],[115,-67],[1000,-63.2]],
    [[0.1,-68],[1.3,-68],[1.5,-64],[1.7,-71],[1.95,-66],[2.25,-74],[2.5,-84],[2.7,-104],[2.85,-74],[3.1,-56],[3.4,-42],[3.75,-50],[4.5,-58],[5.5,-63],[6.5,-68],[7.2,-78],[7.5,-101],[7.8,-70],[8.4,-50],[8.9,-36],[9.5,-46],[11,-55],[13,-60],[16,-63],[18,-66],[18.7,-78],[19.6,-64],[25,-66],[28,-62],[31,-67],[1000,-65.2]],
    [[0.1,-64.8],[1.35,-64.8],[1.5,-66],[1.7,-61],[1.9,-64],[2.3,-62],[2.7,-65],[3.1,-70],[3.5,-80],[3.8,-98],[3.95,-66],[4.2,-40],[4.6,-48],[5.3,-54],[6.5,-58],[8,-61],[10,-64],[11.8,-70],[12.6,-85],[13.0,-64],[13.5,-44],[14.2,-52],[16,-57],[19,-61],[24,-63],[28,-59],[32,-64],[108,-62],[112,-56],[116,-65],[1000,-62.5]],
]

LEGEND_IDX = {"TL": ("1 : 3", "1 : 3"), "TR": ("1 : 3", "4 : 6"),
              "BL": ("4 : 6", "1 : 3"), "BR": ("4 : 6", "4 : 6")}

# ---------------- styling ----------------
LINE = "#c0d8e6"
TXT = "#262626"
FRAME = "#6a6a6a"
FONT = "DejaVu Serif"
LFONT = "DejaVu Serif, DejaVu Sans"
W = 530
H_TOP = 245
H_BOT = 231


def pairs_df(lines):
    rows = []
    for i, curve in enumerate(lines):
        for f, v in curve:
            rows.append({"id": i, "f": f, "v": v})
    return pd.DataFrame(rows)


def grid_df(freq, lines, start):
    rows = []
    for i, curve in enumerate(lines):
        if len(curve) != len(freq):
            raise ValueError(f"curve {start + i}: {len(curve)} values, {len(freq)} freqs")
        for f, v in zip(freq, curve):
            rows.append({"id": start + i, "f": f, "v": v})
    return pd.DataFrame(rows)


ONE = pd.DataFrame({"k": [0]})


def legend_layers(x0, y0, w, h, a, b):
    layers = [alt.Chart(ONE).mark_rect(fillOpacity=0, stroke="#111", strokeWidth=0.9).encode(
        x=alt.value(x0), x2=alt.value(x0 + w), y=alt.value(y0), y2=alt.value(y0 + h))]
    base = y0 + 22.5
    pieces = [
        ("[", 9.5, 3.8, 27, "normal", "normal", "left"),
        ("W", 20.5, 0, 18, "bold", "normal", "left"),
        ("ext/ℬ,B", 41.5, 3.3, 12, "normal", "normal", "left"),
        ("]", 87, 3.8, 27, "normal", "normal", "left"),
        ("ℛ", 97, 7.5, 14, "normal", "normal", "left"),
        ("B", 109.5, 11, 9.5, "normal", "italic", "left"),
        (f"({a})", 128.5, 0, 18, "normal", "normal", "left"),
        ("→", 197.5, 0, 22, "normal", "normal", "center"),
        ("[", 210, 0, 18, "normal", "normal", "left"),
        ("ẍ", 215.5, 0, 18, "bold", "normal", "left"),
        ("B", 227, 4, 12.5, "normal", "italic", "left"),
        ("]", 234.5, 0, 18, "normal", "normal", "left"),
        ("ℛ", 241, 7.5, 14, "normal", "normal", "left"),
        ("B", 253.5, 11, 9.5, "normal", "italic", "left"),
        (f"({b})", 272, 0, 18, "normal", "normal", "left"),
    ]
    for txt, dx, dy, size, weight, style, align in pieces:
        layers.append(alt.Chart(ONE).mark_text(
            font=LFONT, fontSize=size, fontWeight=weight, fontStyle=style,
            align=align, baseline="alphabetic", color="#000").encode(
            x=alt.value(x0 + dx), y=alt.value(base + dy), text=alt.value(txt)))
    return layers


def panel(df, ydomain, yticks, height, show_x, legend_box, idx, ytitle=False):
    xs = alt.Scale(type="log", domain=[0.1, 1000], nice=False)
    ys = alt.Scale(domain=ydomain, nice=False, zero=False)
    if show_x:
        xaxis = alt.Axis(values=X_TICKS, title="Frequency (rad/s)", labelFlush=False,
                         labelOverlap=False, labelPadding=5, titlePadding=8,
                         labelExpr="datum.value < 0.5 ? '10⁻¹' : datum.value < 5 ? '10⁰' : "
                                   "datum.value < 50 ? '10¹' : datum.value < 500 ? '10²' : '10³'")
    else:
        xaxis = alt.Axis(values=X_TICKS, labels=False, title=None)
    yaxis = alt.Axis(values=yticks, title=None, labelPadding=7, labelFlush=False,
                     labelOverlap=False, labelExpr="'-' + abs(datum.value)")
    X = alt.X("f:Q", scale=xs, axis=xaxis)
    Y = alt.Y("v:Q", scale=ys, axis=yaxis)

    lines = alt.Chart(df).mark_line(color=LINE, strokeWidth=1.15, clip=True,
                                    strokeJoin="round").encode(x=X, y=Y, detail="id:N")
    ydf = pd.DataFrame({"v": yticks})
    xdf = pd.DataFrame({"f": X_TICKS})
    tick_style = dict(color=TXT, strokeWidth=1)
    layers = [
        lines,
        alt.Chart(ydf).mark_rule(**tick_style).encode(y=Y, x=alt.value(0), x2=alt.value(6)),
        alt.Chart(ydf).mark_rule(**tick_style).encode(y=Y, x=alt.value(W - 6), x2=alt.value(W)),
        alt.Chart(xdf).mark_rule(**tick_style).encode(x=X, y=alt.value(0), y2=alt.value(6)),
        alt.Chart(xdf).mark_rule(**tick_style).encode(x=X, y=alt.value(height - 6), y2=alt.value(height)),
    ]
    bx, by, bw, bh = legend_box
    layers += legend_layers(bx, by, bw, bh, *idx)
    if ytitle:
        layers.append(alt.Chart(ONE).mark_text(
            font=FONT, fontSize=19, angle=270, align="center", baseline="middle", color=TXT).encode(
            x=alt.value(-67), y=alt.value(254), text=alt.value("Singular Values (dB)")))
    return alt.layer(*layers).properties(width=W, height=height)


tl_df = pairs_df(TL_LINES)
tr_df = pd.concat([grid_df(FREQ_UP, TR_UPPER, 0),
                   grid_df(FREQ_LO_TR, TR_LOWER, 100)], ignore_index=True)
bl_df = pd.concat([grid_df(FREQ_UP, BL_UPPER, 0),
                   grid_df(FREQ_LO_BL, BL_LOWER, 100)], ignore_index=True)
br_df = pairs_df(BR_LINES)

tl = panel(tl_df, TL_DOMAIN, TL_YTICKS, H_TOP, False, (189.3, 197.3, 335, 40), LEGEND_IDX["TL"], ytitle=True)
tr = panel(tr_df, TR_DOMAIN, TR_YTICKS, H_TOP, False, (191, 200.3, 333, 37.5), LEGEND_IDX["TR"])
bl = panel(bl_df, BL_DOMAIN, BL_YTICKS, H_BOT, True, (190.3, 186.7, 334, 36.7), LEGEND_IDX["BL"])
br = panel(br_df, BR_DOMAIN, BR_YTICKS, H_BOT, True, (187, 185, 333.3, 36.7), LEGEND_IDX["BR"])

chart = alt.concat(tl, tr, bl, br, columns=2, spacing={"row": 33, "column": 60},
                   bounds="flush").properties(
    padding={"left": 8, "top": 2, "right": 5, "bottom": 5},
    background="white",
).configure_axis(
    domain=False, ticks=False, tickSize=0, grid=False,
    labelFont=FONT, labelFontSize=17, labelColor=TXT,
    titleFont=FONT, titleFontSize=19, titleFontWeight="normal", titleColor=TXT,
).configure_view(stroke=FRAME, strokeWidth=1)

chart.save("out.html", embed_options={"renderer": "svg", "actions": False})
